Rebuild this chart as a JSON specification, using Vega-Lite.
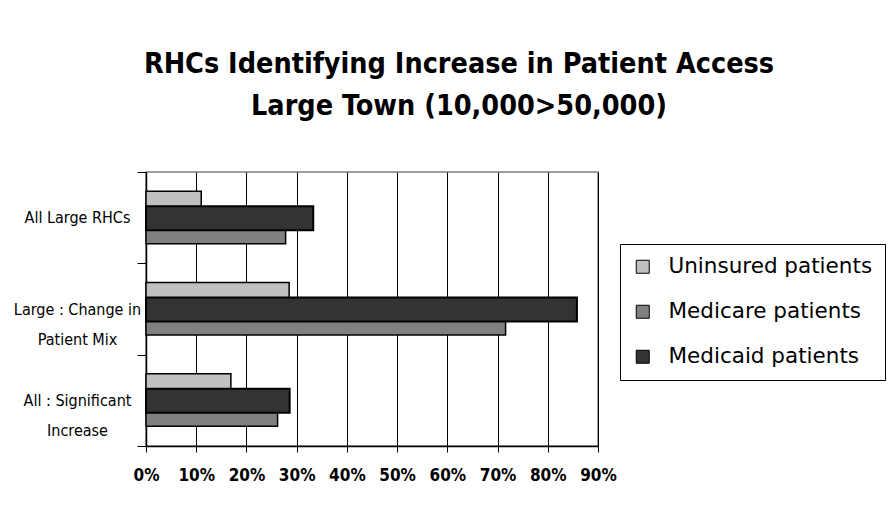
{
  "$schema": "https://vega.github.io/schema/vega-lite/v6.json",
  "autosize": "none",
  "width": 452,
  "height": 274,
  "padding": {"left": 146, "top": 172, "right": 295, "bottom": 68},
  "background": "white",
  "title": {
    "text": ["RHCs Identifying Increase in Patient Access", "Large Town (10,000>50,000)"],
    "font": "DejaVu Sans Condensed",
    "fontWeight": "bold",
    "fontSize": 28.5,
    "lineHeight": 42,
    "color": "#000000",
    "anchor": "middle",
    "frame": "group",
    "dx": 87,
    "offset": 44
  },
  "data": {
    "values": [
      {"category": "All Large RHCs", "series": "Uninsured patients", "value": 0.11},
      {"category": "All Large RHCs", "series": "Medicare patients", "value": 0.278},
      {"category": "All Large RHCs", "series": "Medicaid patients", "value": 0.333},
      {"category": "Large : Change in Patient Mix", "series": "Uninsured patients", "value": 0.285},
      {"category": "Large : Change in Patient Mix", "series": "Medicare patients", "value": 0.716},
      {"category": "Large : Change in Patient Mix", "series": "Medicaid patients", "value": 0.858},
      {"category": "All : Significant Increase", "series": "Uninsured patients", "value": 0.169},
      {"category": "All : Significant Increase", "series": "Medicare patients", "value": 0.262},
      {"category": "All : Significant Increase", "series": "Medicaid patients", "value": 0.286}
    ]
  },
  "encoding": {
    "y": {
      "field": "category",
      "type": "nominal",
      "sort": ["All Large RHCs", "Large : Change in Patient Mix", "All : Significant Increase"],
      "scale": {"paddingInner": 0, "paddingOuter": 0},
      "axis": {
        "title": null,
        "tickBand": "extent",
        "tickSize": 9,
        "tickColor": "#000000",
        "domainColor": "#000000",
        "domainWidth": 1.5,
        "labelFont": "DejaVu Sans Condensed",
        "labelFontSize": 16,
        "labelColor": "#000000",
        "labelAlign": "center",
        "labelPadding": 60,
        "labelLineHeight": 30,
        "labelLimit": 200,
        "labelExpr": "datum.value == 'Large : Change in Patient Mix' ? ['Large : Change in', 'Patient Mix'] : datum.value == 'All : Significant Increase' ? ['All : Significant', 'Increase'] : datum.value"
      }
    },
    "x": {
      "field": "value",
      "type": "quantitative",
      "scale": {"domain": [0, 0.9], "nice": false},
      "axis": {
        "title": null,
        "values": [0, 0.1, 0.2, 0.3, 0.4, 0.5, 0.6, 0.7, 0.8, 0.9],
        "format": ".0%",
        "grid": true,
        "gridColor": "#000000",
        "gridWidth": 1,
        "gridOpacity": 1,
        "tickSize": 6,
        "tickColor": "#000000",
        "domainColor": "#000000",
        "domainWidth": 1.5,
        "labelFont": "DejaVu Sans Condensed",
        "labelFontWeight": "bold",
        "labelFontSize": 17,
        "labelColor": "#000000",
        "labelOverlap": false,
        "labelFlush": false,
        "labelBound": false,
        "labelPadding": 15
      }
    },
    "color": {
      "field": "series",
      "type": "nominal",
      "scale": {
        "domain": ["Uninsured patients", "Medicare patients", "Medicaid patients"],
        "range": ["#c0c0c0", "#808080", "#333333"]
      },
      "legend": {
        "title": null,
        "orient": "none",
        "legendX": 474,
        "legendY": 72,
        "symbolType": "square",
        "symbolSize": 169,
        "symbolStrokeColor": "#000000",
        "symbolStrokeWidth": 1,
        "labelFont": "DejaVu Sans",
        "labelFontSize": 21.5,
        "labelColor": "#000000",
        "labelLimit": 400,
        "labelOffset": 15,
        "rowPadding": 22,
        "padding": 12,
        "fillColor": "#ffffff",
        "strokeColor": "#000000"
      }
    }
  },
  "layer": [
    {
      "transform": [{"filter": "datum.series == 'Uninsured patients'"}],
      "mark": {"type": "bar", "height": 24, "yOffset": -14.5, "stroke": "#000000", "strokeWidth": 1.5}
    },
    {
      "transform": [{"filter": "datum.series == 'Medicare patients'"}],
      "mark": {"type": "bar", "height": 24, "yOffset": 14, "stroke": "#000000", "strokeWidth": 1.5}
    },
    {
      "transform": [{"filter": "datum.series == 'Medicaid patients'"}],
      "mark": {"type": "bar", "height": 24, "yOffset": 0.5, "stroke": "#000000", "strokeWidth": 2}
    }
  ],
  "config": {
    "view": {"stroke": "#808080", "strokeWidth": 1.5}
  }
}
